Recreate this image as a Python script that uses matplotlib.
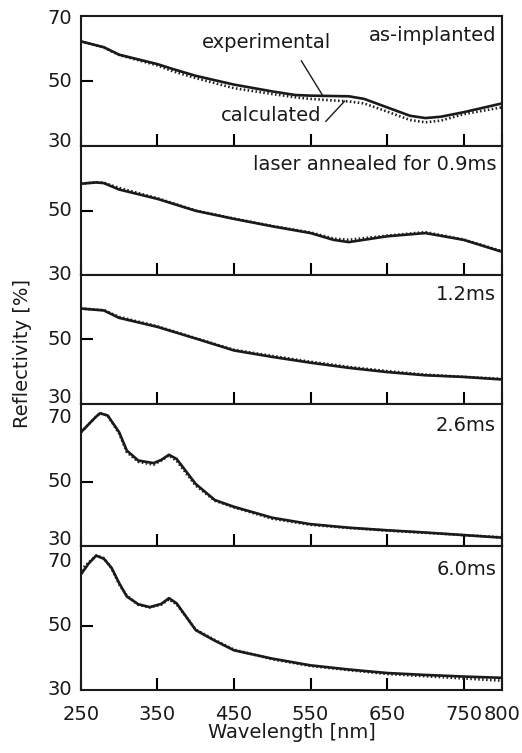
import matplotlib
matplotlib.use("Agg")
import matplotlib.pyplot as plt
from matplotlib.transforms import offset_copy

plt.rcParams["font.family"] = ["DejaVu Sans"]
FS = 14
INK = "#1a1a1a"

# ---- data (wavelength nm, reflectivity %) ----
wl_1 = [250, 280, 300, 350, 370, 400, 450, 500, 530, 550, 600, 620, 650, 680, 700, 720, 750, 800]
exp_1 = [62.2, 60.4, 58.1, 55.2, 53.7, 51.6, 48.9, 46.8, 45.7, 45.5, 45.3, 44.5, 41.9, 39.3, 38.6, 39.0, 40.4, 43.1]
calc_1 = [62.2, 60.3, 58.0, 54.8, 53.0, 50.9, 47.8, 46.0, 45.0, 44.5, 43.7, 43.1, 40.6, 38.0, 37.3, 37.8, 39.8, 41.9]

wl_2 = [250, 270, 280, 300, 350, 400, 450, 500, 550, 580, 600, 650, 700, 750, 800]
exp_2 = [58.3, 58.7, 58.5, 56.5, 53.6, 49.9, 47.4, 45.1, 43.0, 40.9, 40.2, 42.0, 43.0, 40.9, 37.2]
calc_2 = [58.3, 58.8, 58.6, 57.0, 53.8, 50.0, 47.5, 45.2, 43.2, 41.3, 40.9, 42.2, 43.3, 41.0, 37.4]

wl_3 = [250, 280, 300, 350, 400, 450, 500, 550, 600, 650, 700, 750, 800]
exp_3 = [59.6, 59.0, 56.7, 53.9, 50.3, 46.6, 44.6, 42.8, 41.2, 39.9, 38.9, 38.4, 37.6]
calc_3 = [59.6, 59.1, 57.0, 54.1, 50.4, 46.8, 44.9, 43.1, 41.5, 40.2, 39.1, 38.4, 37.8]

wl_4 = [250, 270, 275, 285, 300, 310, 325, 345, 355, 365, 375, 400, 425, 450, 500, 550, 600, 650, 700, 750, 800]
exp_4 = [65.4, 70.3, 71.3, 70.6, 65.4, 59.7, 56.6, 55.8, 56.8, 58.4, 57.1, 49.3, 44.3, 42.2, 38.8, 36.8, 35.7, 34.9, 34.2, 33.4, 32.6]
calc_4 = [65.4, 70.3, 71.3, 70.6, 65.0, 59.2, 56.2, 55.3, 56.6, 58.2, 56.5, 48.8, 44.1, 42.0, 38.5, 36.6, 35.6, 34.8, 34.1, 33.4, 32.7]

wl_5 = [250, 260, 270, 280, 290, 300, 310, 325, 340, 355, 365, 375, 400, 425, 450, 500, 550, 600, 650, 700, 750, 800]
exp_5 = [66.1, 69.5, 72.0, 71.0, 68.2, 63.4, 59.2, 56.8, 55.9, 56.9, 58.7, 57.1, 48.7, 45.4, 42.4, 39.8, 37.7, 36.4, 35.3, 34.7, 34.2, 33.8]
calc_5 = [67.5, 69.8, 72.0, 71.2, 68.0, 63.0, 59.5, 56.6, 55.8, 56.7, 58.3, 56.8, 48.9, 45.6, 42.6, 39.6, 37.5, 36.2, 35.0, 34.3, 33.6, 32.9]

panel_labels = ["as-implanted", "laser annealed for 0.9ms", "1.2ms", "2.6ms", "6.0ms"]
ytop = [70, 70, 70, 74.2, 75]
# y labels per panel: (value, vertical nudge in points)
y_side_labels = [[(70, -2), (50, 0), (30, 3.5)],
                 [(50, 0), (30, 0.5)],
                 [(50, 0), (30, 5)],
                 [(70, 0), (50, 0), (30, 4.5)],
                 [(70, 0), (50, 0), (30, 0)]]
xticks = [250, 350, 450, 550, 650, 750, 800]

panels = [(wl_1, exp_1, calc_1), (wl_2, exp_2, calc_2), (wl_3, exp_3, calc_3),
          (wl_4, exp_4, calc_4), (wl_5, exp_5, calc_5)]

# axes boxes in figure fraction (left, bottom, width, height)
boxes = [(0.155, 0.8061, 0.8065, 0.1726),
         (0.155, 0.6348, 0.8065, 0.1713),
         (0.155, 0.4635, 0.8065, 0.1713),
         (0.155, 0.2749, 0.8065, 0.1886),
         (0.155, 0.0837, 0.8065, 0.1912)]
label_y = [0.85, 0.857, 0.849, 0.846, 0.84]

fig = plt.figure(figsize=(5.22, 7.53), dpi=100)
axes = []
for i, ((wl, ex, ca), box) in enumerate(zip(panels, boxes)):
    ax = fig.add_axes(box)
    axes.append(ax)
    ax.plot(wl, ca, color="#222222", lw=1.9, ls=(0, (0.6, 0.9)), zorder=2)
    ax.plot(wl, ex, color=INK, lw=1.9, zorder=3)
    ax.set_xlim(250, 800)
    ax.set_ylim(30, ytop[i])
    for s in ax.spines.values():
        s.set_linewidth(1.5)
        s.set_color(INK)
    ax.set_yticks([50])
    ax.tick_params(axis="y", direction="in", length=8.5, width=1.5, labelleft=False)
    for val, dy in y_side_labels[i]:
        tr = offset_copy(ax.get_yaxis_transform(), fig=fig, x=-6.5, y=dy, units="points")
        ax.text(0, val, str(val), transform=tr, ha="right", va="center",
                fontsize=FS, color=INK, clip_on=False)
    ax.set_xticks(xticks)
    ax.tick_params(axis="x", direction="in", length=8.5, width=1.5, pad=11,
                   labelsize=FS, labelcolor=INK)
    if i < 4:
        ax.tick_params(axis="x", labelbottom=False)
    ax.text(0.986, label_y[i], panel_labels[i], transform=ax.transAxes,
            ha="right", va="center", fontsize=FS, color=INK)

# leader lines for the legend words in the first panel
a0 = axes[0]
a0.text(492, 62.0, "experimental", ha="center", va="center", fontsize=FS, color=INK)
a0.plot([538, 566], [56.2, 45.5], color=INK, lw=1.0)
a0.text(499, 39.5, "calculated", ha="center", va="center", fontsize=FS, color=INK)
a0.plot([570, 594.5], [37.6, 43.8], color=INK, lw=1.0)

axes[-1].set_xlabel("Wavelength [nm]", fontsize=FS, labelpad=-1, color=INK)
fig.text(23 / 522, 1 - 353 / 753, "Reflectivity [%]", rotation=90,
         ha="center", va="center", fontsize=FS, color=INK)

fig.savefig("out.png", dpi=100)
